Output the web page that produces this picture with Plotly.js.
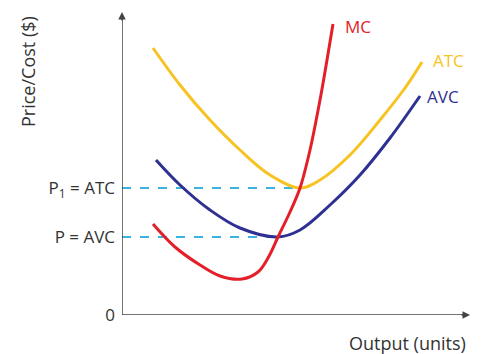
<!DOCTYPE html>
<html>
<head>
<meta charset="utf-8">
<script src="https://cdn.plot.ly/plotly-3.0.1.min.js"></script>
<style>html,body{margin:0;padding:0;background:#fff;}#chart{width:483px;height:354px;}</style>
</head>
<body>
<div id="chart"></div>
<script>
// Output (arbitrary units) and Price/Cost (arbitrary units)
const atcX = [31, 58, 88, 118, 148, 178, 198, 228, 258, 283, 300];
const atcY = [267, 230, 195, 165, 140, 127, 135, 160, 195, 227, 253];
const avcX = [34, 58, 88, 118, 156, 178, 208, 238, 268, 298];
const avcY = [155, 130, 105, 87, 78, 85, 110, 140, 177, 219];
const mcX = [31, 53, 78, 98, 120, 136, 146, 156, 168, 178, 188, 198, 205, 211];
const mcY = [91, 68, 50, 39, 36, 43, 57, 78, 103, 127, 165, 215, 255, 291];
const curveNames = ["MC", "ATC", "AVC"];
const priceLabels = ["0", "P = AVC", "P<sub>1</sub> = ATC"];

const xMax = 348, yMax = 303;
const font = "Open Sans, DejaVu Sans, sans-serif";
const red = "#e3202a", yellow = "#f7c322", navy = "#2e3192", dash = "#3bb3e0", axc = "#444";

function minPoint(xs, ys) {
  let i = ys.indexOf(Math.min(...ys));
  return [xs[i], ys[i]];
}
const [atcMinX, atcMinY] = minPoint(atcX, atcY);
const [avcMinX, avcMinY] = minPoint(avcX, avcY);

const traces = [
  {x: [0, atcMinX], y: [atcMinY, atcMinY], mode: "lines", line: {color: dash, width: 2, dash: "dash"}, hoverinfo: "skip"},
  {x: [0, avcMinX], y: [avcMinY, avcMinY], mode: "lines", line: {color: dash, width: 2, dash: "dash"}, hoverinfo: "skip"},
  {x: atcX, y: atcY, mode: "lines", line: {color: yellow, width: 3, shape: "spline", smoothing: 1}, name: curveNames[1]},
  {x: avcX, y: avcY, mode: "lines", line: {color: navy, width: 3, shape: "spline", smoothing: 1}, name: curveNames[2]},
  {x: mcX, y: mcY, mode: "lines", line: {color: red, width: 3, shape: "spline", smoothing: 1}, name: curveNames[0]}
];

const labelColors = [red, yellow, navy];
const ends = [[mcX, mcY], [atcX, atcY], [avcX, avcY]];
const annotations = ends.map((e, i) => ({
  x: e[0][e[0].length - 1], y: e[1][e[1].length - 1], text: curveNames[i],
  showarrow: false, xanchor: "left", yanchor: "middle", xshift: 10, yshift: 0,
  font: {family: font, size: 17, color: labelColors[i]}
}));
annotations[1].xshift = 9; annotations[1].yshift = 2;
annotations[2].xshift = 5; annotations[2].yshift = 0;
annotations[0].yshift = -2;

annotations.push(
  {x: 0, y: yMax, ax: 0, ay: yMax - 10, axref: "x", ayref: "y", xref: "x", yref: "y", showarrow: true, arrowhead: 2, arrowsize: 1, arrowwidth: 1.5, arrowcolor: axc, text: ""},
  {x: xMax, y: 0, ax: xMax - 10, ay: 0, axref: "x", ayref: "y", xref: "x", yref: "y", showarrow: true, arrowhead: 2, arrowsize: 1, arrowwidth: 1.5, arrowcolor: axc, text: ""},
  {xref: "paper", yref: "paper", x: 1.0, xshift: -2, y: 0, yshift: -28, xanchor: "right", yanchor: "middle", showarrow: false, text: "Output (units)", font: {family: font, size: 18, color: "#333"}},
  {xref: "paper", yref: "paper", x: 0, xshift: -94, y: 1, yshift: -60, textangle: -90, xanchor: "center", yanchor: "middle", showarrow: false, text: "Price/Cost ($)", font: {family: font, size: 18, color: "#333"}}
);

const layout = {
  width: 483, height: 354,
  margin: {l: 122, r: 13, t: 12, b: 39},
  paper_bgcolor: "#fff", plot_bgcolor: "#fff",
  showlegend: false,
  xaxis: {range: [0, xMax], showgrid: false, zeroline: false, showline: false, showticklabels: false, ticks: "", fixedrange: true},
  yaxis: {range: [0, yMax], showgrid: false, zeroline: false, showline: false, ticks: "",
    tickvals: [0, avcMinY, atcMinY], ticktext: priceLabels, ticklabelstandoff: 6,
    tickfont: {family: font, size: 17, color: "#333"}, fixedrange: true},
  shapes: [
    {type: "line", xref: "x", yref: "y", x0: 0, x1: 0, y0: 0, y1: yMax - 2, line: {color: axc, width: 1.5}},
    {type: "line", xref: "x", yref: "y", x0: 0, x1: xMax - 2, y0: 0, y1: 0, line: {color: axc, width: 1.5}}
  ],
  annotations: annotations
};

Plotly.newPlot("chart", traces, layout, {displayModeBar: false, staticPlot: true});
</script>
</body>
</html>
